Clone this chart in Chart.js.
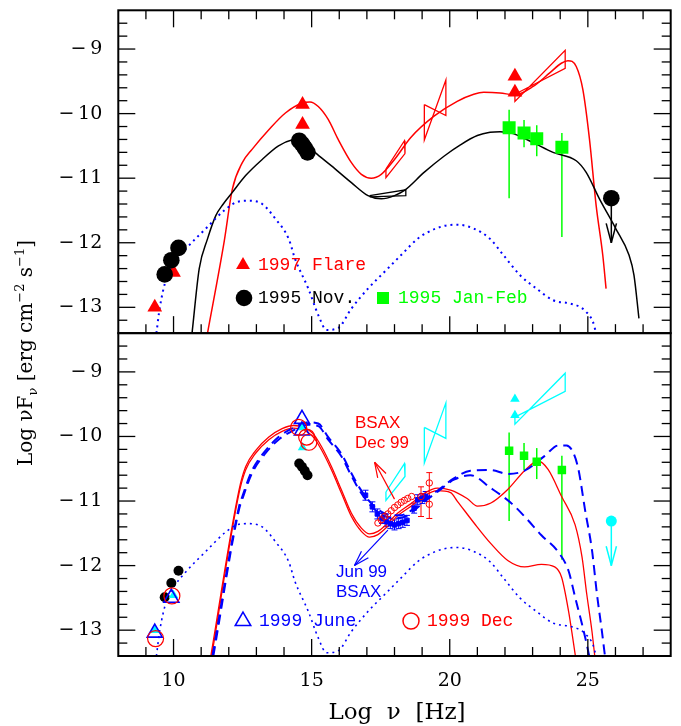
<!DOCTYPE html>
<html><head><meta charset="utf-8">
<script src="https://cdn.jsdelivr.net/npm/chart.js@4.4.1/dist/chart.umd.min.js"></script>
<style>html,body{margin:0;padding:0;background:#fff}canvas{display:block}</style>
</head><body>
<canvas id="c" width="681" height="726"></canvas>
<script>
// ================= DATA =================
const xTickValues = [10, 15, 20, 25];
const yTickValues = [-13, -12, -11, -10, -9];

// --- upper panel: 1997 flare (red triangles) ---
const flare97X = [9.32, 10.0, 14.67, 14.67, 22.36, 22.36];
const flare97Y = [-13.0, -12.46, -9.86, -10.17, -9.42, -9.67];
// --- 1995 Nov (black circles) ---
const nov95X = [9.68, 9.92, 10.18, 14.55, 14.65, 14.75, 14.85];
const nov95Y = [-12.49, -12.27, -12.08, -10.42, -10.47, -10.53, -10.6];
// gamma-ray upper limit
const ulX = [25.85];
const ulY = [-11.31];
const ulTo = [-12.0];
// --- 1995 Jan-Feb (green squares) ---
const janfeb95X = [22.15, 22.69, 23.15, 24.06];
const janfeb95Y = [-10.22, -10.30, -10.39, -10.52];
const janfeb95Lo = [-11.31, -10.52, -10.66, -11.91];
const janfeb95Hi = [-9.94, -10.10, -10.18, -10.30];

// X-ray / TeV bow-ties (1997 flare) and 1995 Nov X-ray bow-tie
const bowSoftX = [17.69, 18.36, 18.38, 17.69, 17.69];
const bowSoftY = [-10.86, -10.42, -10.62, -10.99, -10.86];
const bowHardX = [19.08, 19.86, 19.86, 19.08, 19.08];
const bowHardY = [-9.86, -10.03, -9.48, -10.41, -9.86];
const bowTeVX = [22.36, 24.18, 24.18, 22.36, 22.36];
const bowTeVY = [-9.70, -9.30, -9.02, -9.81, -9.70];
const bowNovX = [17.1, 18.41, 18.41, 17.1];
const bowNovY = [-11.27, -11.18, -11.27, -11.29];

// models, upper panel
const flareModelX = [11.23, 11.83, 12.13, 12.49, 12.85, 13.45, 14.05, 14.64, 14.94, 15.24, 15.6, 15.96, 16.44, 16.8, 17.16, 17.52, 18.0, 18.59, 19.43, 20.27, 20.87, 21.23, 21.82, 22.36, 23.02, 23.62, 24.04, 24.28, 24.58, 24.82, 25.06, 25.3, 25.54, 25.66];
const flareModelY = [-13.4, -11.99, -11.17, -10.76, -10.55, -10.25, -9.99, -9.84, -9.82, -9.89, -10.09, -10.4, -10.76, -10.94, -11.0, -10.94, -10.71, -10.37, -10.04, -9.81, -9.7, -9.67, -9.68, -9.71, -9.58, -9.37, -9.22, -9.18, -9.27, -9.63, -10.4, -11.42, -12.19, -12.71];
const novModelX = [10.67, 10.93, 11.23, 11.53, 11.8, 12.13, 12.61, 13.21, 13.8, 14.28, 14.6, 15.12, 15.72, 16.44, 17.04, 17.52, 18.0, 18.36, 19.07, 19.79, 20.4, 21.0, 21.46, 21.82, 22.3, 23.02, 23.74, 24.58, 24.94, 25.42, 26.01, 26.49, 26.67, 26.85];
const novModelY = [-13.4, -12.4, -11.94, -11.58, -11.4, -11.22, -10.96, -10.71, -10.5, -10.41, -10.4, -10.6, -10.81, -11.07, -11.27, -11.32, -11.27, -11.19, -10.91, -10.66, -10.48, -10.34, -10.29, -10.28, -10.31, -10.45, -10.6, -10.73, -10.91, -11.32, -11.78, -12.19, -12.5, -13.17];
// quiescent (dotted) model, both panels
const lowModelX = [9.38, 9.5, 9.74, 9.98, 10.46, 11.17, 11.89, 12.37, 12.73, 13.21, 13.69, 14.17, 14.4, 14.88, 15.24, 15.54, 15.96, 16.44, 17.04, 17.64, 18.24, 18.83, 19.19, 19.79, 20.27, 20.87, 21.46, 21.94, 22.54, 23.14, 23.74, 24.34, 24.7, 24.94, 25.18, 25.3];
const lowModelY = [-13.4, -13.01, -12.55, -12.35, -12.09, -11.78, -11.48, -11.36, -11.35, -11.4, -11.63, -11.94, -12.25, -12.71, -13.12, -13.35, -13.32, -13.02, -12.71, -12.45, -12.19, -11.94, -11.84, -11.74, -11.72, -11.78, -11.94, -12.19, -12.5, -12.71, -12.89, -12.94, -12.99, -13.07, -13.22, -13.4];

// --- lower panel: 1999 June (blue open triangles), 1999 Dec (red open circles) ---
const jun99X = [9.32, 9.92, 14.65, 14.65];
const jun99Y = [-13.04, -12.5, -9.73, -9.91];
const dec99X = [9.35, 9.94, 14.53, 14.82, 14.9];
const dec99Y = [-13.13, -12.47, -9.86, -10.01, -10.09];
// BeppoSAX spectra
const junXrayX = [16.95, 17.2, 17.38, 17.55, 17.7, 17.85, 18.0, 18.15, 18.3, 18.45, 18.71, 18.84, 19.01, 19.13];
const junXrayY = [-10.91, -11.09, -11.2, -11.27, -11.32, -11.35, -11.37, -11.35, -11.33, -11.3, -11.11, -10.98, -10.96, -10.93];
const decXrayX = [17.4, 17.52, 17.64, 17.76, 17.88, 18.0, 18.12, 18.24, 18.36, 18.48, 18.62, 18.96, 19.26, 19.26];
const decXrayY = [-11.34, -11.29, -11.24, -11.2, -11.15, -11.1, -11.06, -11.02, -10.99, -10.96, -10.93, -10.93, -10.72, -11.05];
const decErrX = [18.96, 19.26];
const decErrLo = [-11.24, -11.27];
const decErrHi = [-10.78, -10.56];
// BSAX slope arrows
const decArrow = [18.0, -10.97, 17.28, -10.4];
const junArrow = [17.76, -11.45, 16.55, -12.0];

// models, lower panel
const junModelAX = [11.41, 12.37, 12.49, 12.85, 13.33, 13.8, 14.28, 14.88, 15.24, 15.6, 16.08, 16.44, 16.74, 17.04, 17.28, 17.7, 18.2, 18.7, 19.08, 19.55, 20.15, 20.75, 21.49, 22.1, 22.71, 23.44, 23.93, 24.23, 24.47, 24.66, 24.9, 25.15, 25.33, 25.51, 25.62];
const junModelAY = [-13.4, -11.09, -10.93, -10.52, -10.22, -10.01, -9.88, -9.78, -9.8, -10.01, -10.27, -10.57, -10.8, -10.98, -11.09, -11.2, -11.22, -11.12, -10.98, -10.84, -10.65, -10.53, -10.52, -10.58, -10.53, -10.3, -10.14, -10.14, -10.25, -10.51, -11.14, -11.76, -12.44, -13.02, -13.4];
const junModelBX = [11.44, 12.37, 12.49, 12.85, 13.33, 13.8, 14.28, 14.88, 15.24, 15.6, 16.08, 16.44, 16.74, 17.04, 17.28, 17.7, 18.2, 18.7, 19.08, 19.55, 20.15, 20.75, 21.49, 22.22, 22.71, 23.32, 23.93, 24.3, 24.54, 24.79, 24.96, 25.05];
const junModelBY = [-13.4, -11.13, -10.97, -10.56, -10.26, -10.05, -9.92, -9.82, -9.84, -10.05, -10.31, -10.61, -10.84, -11.02, -11.13, -11.24, -11.26, -11.15, -11.01, -10.86, -10.67, -10.6, -10.8, -11.03, -11.24, -11.53, -11.79, -12.08, -12.49, -12.91, -13.22, -13.4];
const decModelAX = [11.35, 12.37, 12.61, 12.97, 13.45, 13.93, 14.35, 14.71, 15.06, 15.36, 15.72, 16.08, 16.44, 16.8, 17.1, 17.4, 17.76, 18.11, 18.6, 19.08, 19.55, 20.03, 20.63, 21.0, 21.49, 22.1, 22.71, 23.2, 23.56, 24.05, 24.54, 24.79, 24.96, 25.15, 25.25];
const decModelAY = [-13.4, -10.83, -10.47, -10.22, -10.01, -9.88, -9.83, -9.86, -9.96, -10.16, -10.47, -10.83, -11.19, -11.42, -11.51, -11.47, -11.34, -11.19, -11.04, -10.88, -10.8, -10.83, -10.96, -11.08, -11.03, -10.82, -10.53, -10.38, -10.51, -10.93, -11.37, -11.87, -12.44, -13.02, -13.4];
const decModelBX = [11.38, 12.37, 12.61, 12.97, 13.45, 13.93, 14.35, 14.71, 15.06, 15.36, 15.72, 16.08, 16.44, 16.8, 17.1, 17.4, 17.76, 18.11, 18.6, 19.08, 19.55, 20.03, 20.27, 20.88, 21.49, 22.1, 22.71, 23.32, 23.8, 24.05, 24.3, 24.47, 24.55];
const decModelBY = [-13.4, -10.88, -10.52, -10.26, -10.05, -9.92, -9.87, -9.9, -10.01, -10.21, -10.52, -10.88, -11.24, -11.47, -11.56, -11.52, -11.39, -11.23, -11.08, -10.92, -10.84, -10.87, -11.0, -11.34, -11.66, -11.92, -12.02, -11.98, -12.02, -12.18, -12.7, -13.17, -13.4];

// ================= CHART =================
const RED = '#ff0000', BLACK = '#000000', BLUE = '#0000ff', GREEN = '#00ff00', CYAN = '#00ffff';
const SERIF = 'DejaVu Serif';
const MONO = 'Liberation Mono';
const SANS = 'Liberation Sans';

function xy(xs, ys) { return xs.map((x, i) => ({ x: x, y: ys[i] })); }
function curve(xs, ys, axis, color, extra) {
  return Object.assign({
    data: xy(xs, ys), yAxisID: axis, showLine: true, borderColor: color,
    borderWidth: 1.5, pointRadius: 0, pointHoverRadius: 0, fill: false,
    cubicInterpolationMode: 'monotone', order: 6
  }, extra || {});
}
function poly(xs, ys, axis, color, order) {
  return { data: xy(xs, ys), yAxisID: axis, showLine: true, borderColor: color,
    borderWidth: 1.3, pointRadius: 0, pointHoverRadius: 0, fill: false, tension: 0, order: order || 4 };
}
function marks(xs, ys, axis, style, r, fillC, strokeC, bw, order) {
  return { data: xy(xs, ys), yAxisID: axis, showLine: false, pointStyle: style,
    pointRadius: r, pointHoverRadius: r, backgroundColor: fillC, borderColor: strokeC,
    pointBorderWidth: bw, order: order };
}

const datasets = [
  // ---- upper panel ----
  curve(lowModelX, lowModelY, 'yTop', BLUE, { borderDash: [2, 4], borderWidth: 2 }),
  curve(novModelX, novModelY, 'yTop', BLACK),
  curve(flareModelX, flareModelY, 'yTop', RED),
  poly(bowSoftX, bowSoftY, 'yTop', RED),
  poly(bowHardX, bowHardY, 'yTop', RED),
  poly(bowTeVX, bowTeVY, 'yTop', RED),
  poly(bowNovX, bowNovY, 'yTop', BLACK),
  marks(janfeb95X, janfeb95Y, 'yTop', 'rect', 9.2, GREEN, GREEN, 0, 2),
  marks(flare97X, flare97Y, 'yTop', 'triangle', 8.5, RED, RED, 0, 2),
  marks(nov95X, nov95Y, 'yTop', 'circle', 8.3, BLACK, BLACK, 0, 1),
  marks(ulX, ulY, 'yTop', 'circle', 8.3, BLACK, BLACK, 0, 1),
  // ---- lower panel ----
  curve(lowModelX, lowModelY, 'yBot', BLUE, { borderDash: [2, 4], borderWidth: 1.6 }),
  curve(junModelAX, junModelAY, 'yBot', BLUE, { borderDash: [10, 6], borderWidth: 2 }),
  curve(junModelBX, junModelBY, 'yBot', BLUE, { borderDash: [10, 6], borderWidth: 2 }),
  curve(decModelAX, decModelAY, 'yBot', RED, { borderWidth: 1.3 }),
  curve(decModelBX, decModelBY, 'yBot', RED, { borderWidth: 1.3 }),
  poly(bowSoftX, bowSoftY, 'yBot', CYAN),
  poly(bowHardX, bowHardY, 'yBot', CYAN),
  poly(bowTeVX, bowTeVY, 'yBot', CYAN),
  marks(janfeb95X, janfeb95Y, 'yBot', 'rect', 6, GREEN, GREEN, 0, 3),
  marks(nov95X, nov95Y, 'yBot', 'circle', 5, BLACK, BLACK, 0, 3),
  marks(flare97X, flare97Y, 'yBot', 'triangle', 5.5, CYAN, CYAN, 0, 2),
  marks(ulX, ulY, 'yBot', 'circle', 5.5, CYAN, CYAN, 0, 2),
  marks(junXrayX, junXrayY, 'yBot', 'rect', 3.2, BLUE, BLUE, 1, 2),
  marks(decXrayX, decXrayY, 'yBot', 'circle', 3.2, 'rgba(0,0,0,0)', RED, 1, 1),
  marks(jun99X, jun99Y, 'yBot', 'triangle', 8.7, 'rgba(0,0,0,0)', BLUE, 1.6, 1),
  marks(dec99X, dec99Y, 'yBot', 'circle', 8, 'rgba(0,0,0,0)', RED, 1.2, 0)
];

function line(ctx, x1, y1, x2, y2) { ctx.beginPath(); ctx.moveTo(x1, y1); ctx.lineTo(x2, y2); ctx.stroke(); }
function arrowHead(ctx, x1, y1, x2, y2, len, spread) {
  const a = Math.atan2(y2 - y1, x2 - x1);
  line(ctx, x2, y2, x2 - len * Math.cos(a - spread), y2 - len * Math.sin(a - spread));
  line(ctx, x2, y2, x2 - len * Math.cos(a + spread), y2 - len * Math.sin(a + spread));
}
function drawRich(ctx, parts, cx, cy, rot) {
  ctx.save();
  ctx.translate(cx, cy);
  if (rot) ctx.rotate(rot);
  let total = 0;
  parts.forEach(p => { ctx.font = p.size + 'px "' + SERIF + '"'; p.w = ctx.measureText(p.t).width; total += p.w; });
  let x = -total / 2;
  ctx.textBaseline = 'alphabetic'; ctx.textAlign = 'left';
  parts.forEach(p => { ctx.font = p.size + 'px "' + SERIF + '"'; ctx.fillText(p.t, x, p.dy || 0); x += p.w; });
  ctx.restore();
}
function marker(ctx, type, x, y, r, color, filled) {
  ctx.save();
  ctx.fillStyle = color; ctx.strokeStyle = color; ctx.lineWidth = 1.5;
  ctx.beginPath();
  if (type === 'triangle') {
    ctx.moveTo(x, y - r); ctx.lineTo(x + r * 0.866, y + r * 0.5); ctx.lineTo(x - r * 0.866, y + r * 0.5); ctx.closePath();
  } else if (type === 'circle') {
    ctx.arc(x, y, r, 0, Math.PI * 2);
  } else {
    ctx.rect(x - r, y - r, 2 * r, 2 * r);
  }
  if (filled) ctx.fill(); else ctx.stroke();
  ctx.restore();
}

const overlay = {
  id: 'overlay',
  beforeDatasetsDraw(chart) {
    const ctx = chart.ctx, xs = chart.scales.x;
    ctx.save();
    ctx.strokeStyle = GREEN; ctx.lineWidth = 1.5;
    ['yTop', 'yBot'].forEach(id => {
      const ys = chart.scales[id];
      janfeb95X.forEach((v, i) => {
        const px = xs.getPixelForValue(v);
        line(ctx, px, ys.getPixelForValue(janfeb95Lo[i]), px, ys.getPixelForValue(janfeb95Hi[i]));
      });
    });
    const yB = chart.scales.yBot;
    ctx.strokeStyle = RED; ctx.lineWidth = 1;
    decErrX.forEach((v, i) => {
      const px = xs.getPixelForValue(v), a = yB.getPixelForValue(decErrLo[i]), b = yB.getPixelForValue(decErrHi[i]);
      line(ctx, px, a, px, b); line(ctx, px - 3, a, px + 3, a); line(ctx, px - 3, b, px + 3, b);
    });
    ctx.strokeStyle = BLUE;
    junXrayX.forEach((v, i) => {
      const px = xs.getPixelForValue(v), py = yB.getPixelForValue(junXrayY[i]);
      line(ctx, px, py - 5, px, py + 5); line(ctx, px - 3, py - 5, px + 3, py - 5); line(ctx, px - 3, py + 5, px + 3, py + 5);
    });
    ctx.restore();
  },
  afterDatasetsDraw(chart) {
    const ctx = chart.ctx, xs = chart.scales.x, yT = chart.scales.yTop, yB = chart.scales.yBot;
    const L = chart.chartArea.left, R = chart.chartArea.right;
    ctx.save();
    ctx.lineWidth = 1.5;
    ctx.strokeStyle = BLACK;
    ulX.forEach((v, i) => {
      const px = xs.getPixelForValue(v), a = yT.getPixelForValue(ulY[i]), b = yT.getPixelForValue(ulTo[i]);
      line(ctx, px, a, px, b); arrowHead(ctx, px, a, px, b, 20, 0.26);
    });
    ctx.strokeStyle = CYAN;
    ulX.forEach((v, i) => {
      const px = xs.getPixelForValue(v), a = yB.getPixelForValue(ulY[i]), b = yB.getPixelForValue(ulTo[i]);
      line(ctx, px, a, px, b); arrowHead(ctx, px, a, px, b, 20, 0.26);
    });
    ctx.lineWidth = 1.2;
    ctx.strokeStyle = RED;
    let p = [xs.getPixelForValue(decArrow[0]), yB.getPixelForValue(decArrow[1]), xs.getPixelForValue(decArrow[2]), yB.getPixelForValue(decArrow[3])];
    line(ctx, p[0], p[1], p[2], p[3]); arrowHead(ctx, p[0], p[1], p[2], p[3], 16, 0.3);
    ctx.strokeStyle = BLUE;
    p = [xs.getPixelForValue(junArrow[0]), yB.getPixelForValue(junArrow[1]), xs.getPixelForValue(junArrow[2]), yB.getPixelForValue(junArrow[3])];
    line(ctx, p[0], p[1], p[2], p[3]); arrowHead(ctx, p[0], p[1], p[2], p[3], 16, 0.3);

    // frames and ticks
    ctx.strokeStyle = BLACK;
    [[yT, true], [yB, false]].forEach(([ys, doTop]) => {
      const T = ys.top, B = ys.bottom;
      ctx.lineWidth = 1.3;
      for (let k = -66; k <= -43; k++) {
        const py = ys.getPixelForValue(k / 5);
        const len = (k % 5 === 0) ? 17 : 9;
        line(ctx, L, py, L + len, py); line(ctx, R, py, R - len, py);
      }
      for (let v = 9; v <= 27; v++) {
        const px = xs.getPixelForValue(v);
        const len = (v % 5 === 0) ? 17 : 9;
        if (doTop) line(ctx, px, T, px, T + len);
        line(ctx, px, B, px, B - len);
      }
      ctx.lineWidth = 2;
      ctx.strokeRect(L, T, R - L, B - T);
    });

    // legends
    ctx.textBaseline = 'middle'; ctx.textAlign = 'left';
    ctx.font = '18px "' + MONO + '"';
    marker(ctx, 'triangle', 243, 265, 8, RED, true);
    ctx.fillStyle = RED; ctx.fillText('1997 Flare', 258, 265);
    marker(ctx, 'circle', 244, 298, 8.3, BLACK, true);
    ctx.fillStyle = BLACK; ctx.fillText('1995 Nov.', 258, 298);
    marker(ctx, 'rect', 383, 298, 6, GREEN, true);
    ctx.fillStyle = GREEN; ctx.fillText('1995 Jan-Feb', 398, 298);
    marker(ctx, 'triangle', 243, 621, 9, BLUE, false);
    ctx.fillStyle = BLUE; ctx.fillText('1999 June', 259, 621);
    marker(ctx, 'circle', 411, 621, 8, RED, false);
    ctx.fillStyle = RED; ctx.fillText('1999 Dec', 427, 621);

    ctx.font = '17px "' + SANS + '"';
    ctx.fillStyle = RED;
    ctx.fillText('BSAX', 355, 423);
    ctx.fillText('Dec 99', 355, 443);
    ctx.fillStyle = BLUE;
    ctx.fillText('Jun 99', 336, 572);
    ctx.fillText('BSAX', 336, 592);

    ctx.fillStyle = BLACK;
    drawRich(ctx, [
      { t: 'Log ', size: 20 }, { t: 'ν', size: 20 }, { t: 'F', size: 20 }, { t: 'ν', size: 13, dy: 5 },
      { t: ' [erg cm', size: 20 }, { t: '−2', size: 13, dy: -8 }, { t: ' s', size: 20 }, { t: '−1', size: 13, dy: -8 }, { t: ']', size: 20 }
    ], 32, 353, -Math.PI / 2);
    drawRich(ctx, [{ t: 'Log  ν  [Hz]', size: 23 }], 397, 719, 0);
    ctx.restore();
  }
};

const tickFont = { family: SERIF, size: 19 };
function yAxis() {
  return {
    type: 'linear', position: 'left', stack: 'panels', stackWeight: 1,
    min: -13.4, max: -8.4,
    grid: { display: false, drawTicks: false }, border: { display: false },
    afterBuildTicks: s => { s.ticks = yTickValues.map(v => ({ value: v })); },
    afterFit: s => { s.width = 118.3; s.paddingTop = 0; s.paddingBottom = 0; },
    ticks: { padding: 16, color: BLACK, font: tickFont,
      callback: v => (v < 0 ? '\u2212\u2009' : '') + Math.abs(v) }
  };
}

new Chart(document.getElementById('c'), {
  type: 'scatter',
  data: { datasets: datasets },
  plugins: [overlay],
  options: {
    responsive: false, animation: false, devicePixelRatio: 1, events: [],
    layout: { padding: { left: 0, right: 5.8, top: 6.7, bottom: 0 } },
    plugins: { legend: { display: false }, tooltip: { enabled: false } },
    scales: {
      x: {
        type: 'linear', position: 'bottom', min: 8, max: 28,
        grid: { display: false, drawTicks: false }, border: { display: false },
        afterBuildTicks: s => { s.ticks = xTickValues.map(v => ({ value: v })); },
        afterFit: s => { s.height = 70; s.paddingLeft = 0; s.paddingRight = 0; },
        ticks: { padding: 14, color: BLACK, font: tickFont, maxRotation: 0 }
      },
      // stacked panels: the later-listed scale is placed on top
      yBot: yAxis(),
      yTop: yAxis()
    }
  }
});
</script>
</body></html>
